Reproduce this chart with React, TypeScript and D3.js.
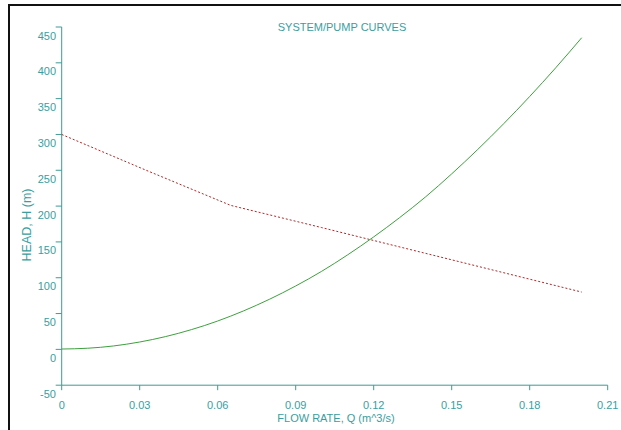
import React from "react";
import * as d3 from "d3";

const systemQ = [0, 0.01, 0.02, 0.03, 0.04, 0.05, 0.06, 0.07, 0.08, 0.09, 0.1, 0.11, 0.12, 0.13, 0.14, 0.15, 0.16, 0.17, 0.18, 0.19, 0.2];
const systemH = [0.5, 1.6, 4.8, 10.3, 17.9, 27.7, 39.6, 53.8, 70.1, 88.5, 109, 132, 157, 184, 213, 245, 279, 315, 353, 393, 435];
const pumpQ = [0, 0.0325, 0.065, 0.1, 0.15, 0.2];
const pumpH = [300, 250, 201, 170, 125, 80];
const xTicks = [0, 0.03, 0.06, 0.09, 0.12, 0.15, 0.18, 0.21];
const xTickLabels = ["0", "0.03", "0.06", "0.09", "0.12", "0.15", "0.18", "0.21"];
const yTicks = [-50, 0, 50, 100, 150, 200, 250, 300, 350, 400, 450];

const TEAL = "#3a9e9e";
const AXIS = "#3f9a96";
const FONT = "'Liberation Sans', Arial, sans-serif";

export default function App() {
  const x = d3.scaleLinear().domain([0, 0.21]).range([61.7, 607.7]);
  const y = d3.scaleLinear().domain([-50, 450]).range([385.2, 27]);
  const line = d3
    .line<[number, number]>()
    .x((d) => x(d[0]))
    .y((d) => y(d[1]))
    .curve(d3.curveMonotoneX);
  const sys = line(systemQ.map((q, i) => [q, systemH[i]]) as [number, number][]) || "";
  const pumpLine = d3
    .line<[number, number]>()
    .x((d) => x(d[0]))
    .y((d) => y(d[1]));
  const pump = pumpLine(pumpQ.map((q, i) => [q, pumpH[i]]) as [number, number][]) || "";
  const x0 = x(0);
  const yBase = y(-50);

  return (
    <svg
      width={621}
      height={430}
      style={{ position: "absolute", left: 0, top: 0, background: "#fff" }}
      fontFamily={FONT}
    >
      <rect x={0} y={0} width={621} height={430} fill="#fff" />
      {/* frame */}
      <line x1={8} y1={5} x2={621} y2={5} stroke="#111" strokeWidth={2} />
      <line x1={9} y1={4} x2={9} y2={430} stroke="#111" strokeWidth={2} />

      {/* title */}
      <text x={342} y={31} textAnchor="middle" fontSize={11} fill={TEAL}>
        SYSTEM/PUMP CURVES
      </text>

      {/* y axis */}
      <line x1={x0} y1={y(450)} x2={x0} y2={yBase} stroke={AXIS} strokeWidth={1} />
      {yTicks.map((t) => (
        <g key={t}>
          <line x1={x0 - 6} x2={x0} y1={y(t)} y2={y(t)} stroke={AXIS} strokeWidth={1} />
          <text x={56} y={y(t) + 12.5} textAnchor="end" fontSize={11} fill={TEAL}>
            {t}
          </text>
        </g>
      ))}
      <text
        transform={`translate(30.5,225) rotate(-90)`}
        textAnchor="middle"
        fontSize={12.5}
        fill={TEAL}
      >
        HEAD, H (m)
      </text>

      {/* x axis */}
      <line x1={x0} y1={yBase} x2={x(0.21)} y2={yBase} stroke={AXIS} strokeWidth={1} />
      {xTicks.map((t, i) => (
        <g key={t}>
          <line x1={x(t)} x2={x(t)} y1={yBase} y2={yBase + 5} stroke={AXIS} strokeWidth={1} />
          <text x={x(t)} y={409} textAnchor="middle" fontSize={11} fill={TEAL}>
            {xTickLabels[i]}
          </text>
        </g>
      ))}
      <text x={336} y={422} textAnchor="middle" fontSize={11} fill={TEAL}>
        FLOW RATE, Q (m^3/s)
      </text>

      {/* curves */}
      <path d={sys} fill="none" stroke="#3ea03e" strokeWidth={1} />
      <path d={pump} fill="none" stroke="#b02828" strokeWidth={1} strokeDasharray="2,2" />
    </svg>
  );
}
